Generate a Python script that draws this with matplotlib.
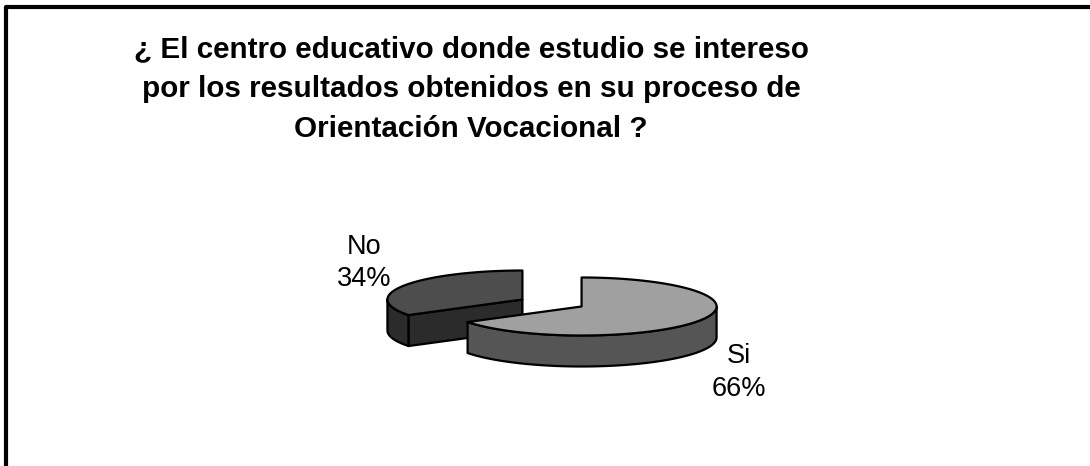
import numpy as np
import matplotlib
matplotlib.use("Agg")
import matplotlib.pyplot as plt
from matplotlib.patches import Polygon

# ---- data ----
categories = ["Si", "No"]
percentages = [66, 34]
slice_top_colors = ["#a0a0a0", "#4d4d4d"]
slice_side_colors = ["#555555", "#2b2b2b"]
title_lines = ["¿ El centro educativo donde estudio se intereso",
               "por los resultados obtenidos en su proceso de",
               "Orientación Vocacional ?"]

# ---- layout (pixel space) ----
W, H = 1090, 466
cx, cy = 552, 303      # pie centre
rx, ry = 135, 29       # ellipse radii
depth = 31             # thickness
explode = 0.25
label_pos = {"Si": (739, 372.5), "No": (364, 263)}

plt.rcParams['font.family'] = ['Liberation Sans', 'DejaVu Sans']
fig = plt.figure(figsize=(W / 100, H / 100), dpi=100)
ax = fig.add_axes([0, 0, 1, 1])
ax.set_xlim(0, W)
ax.set_ylim(H, 0)
ax.axis("off")

# chart frame (top and left visible)
ax.plot([6, 6, W + 20], [H + 20, 7, 7], color="black", lw=3, solid_capstyle="butt")

def pt(c, a, r=1.0):
    return (c[0] + r * rx * np.cos(a), c[1] - r * ry * np.sin(a))

# slices: clockwise from 90 deg
start = np.pi / 2
slices = []
for cat, p, tc, sc in zip(categories, percentages, slice_top_colors, slice_side_colors):
    sweep = p / 100 * 2 * np.pi
    a0, a1 = start - sweep, start   # ccw range a0..a1
    mid = (a0 + a1) / 2
    c = (cx + explode * rx * np.cos(mid), cy - explode * ry * np.sin(mid))
    slices.append((cat, p, a0, a1, c, tc, sc))
    start -= sweep

ec = dict(edgecolor="black", linewidth=1.6, joinstyle="round")

def draw_slice(cat, p, a0, a1, c, tc, sc):
    # radial faces (visible if outward normal faces front)
    for a, sign in ((a0, -1), (a1, +1)):
        normal = a + sign * np.pi / 2
        if np.sin(normal) < -1e-6:
            e = pt(c, a)
            poly = [c, e, (e[0], e[1] + depth), (c[0], c[1] + depth)]
            ax.add_patch(Polygon(poly, closed=True, facecolor=sc, **ec))
    # outer side: front part where sin < 0
    for k in range(-1, 2):
        lo = max(a0, np.pi + 2 * np.pi * k)
        hi = min(a1, 2 * np.pi + 2 * np.pi * k)
        if hi > lo:
            t = np.linspace(lo, hi, 80)
            top = [pt(c, a) for a in t]
            bot = [(x, y + depth) for x, y in top[::-1]]
            ax.add_patch(Polygon(top + bot, closed=True, facecolor=sc, **ec))
    # top surface
    t = np.linspace(a0, a1, 200)
    poly = [c] + [pt(c, a) for a in t]
    ax.add_patch(Polygon(poly, closed=True, facecolor=tc, **ec))

# draw back slice (No) first, then Si
for s in sorted(slices, key=lambda s: s[4][1]):
    draw_slice(*s)

for cat, p, *_ in slices:
    x, y = label_pos[cat]
    ax.text(x, y, f"{cat}\n{p}%", ha="center", va="center", fontsize=19.5,
            linespacing=1.32, color="black")

ax.text(471, 89, "\n".join(title_lines), ha="center", va="center",
        fontsize=21.3, fontweight="bold", linespacing=1.55)

fig.savefig("out.png", dpi=100)
